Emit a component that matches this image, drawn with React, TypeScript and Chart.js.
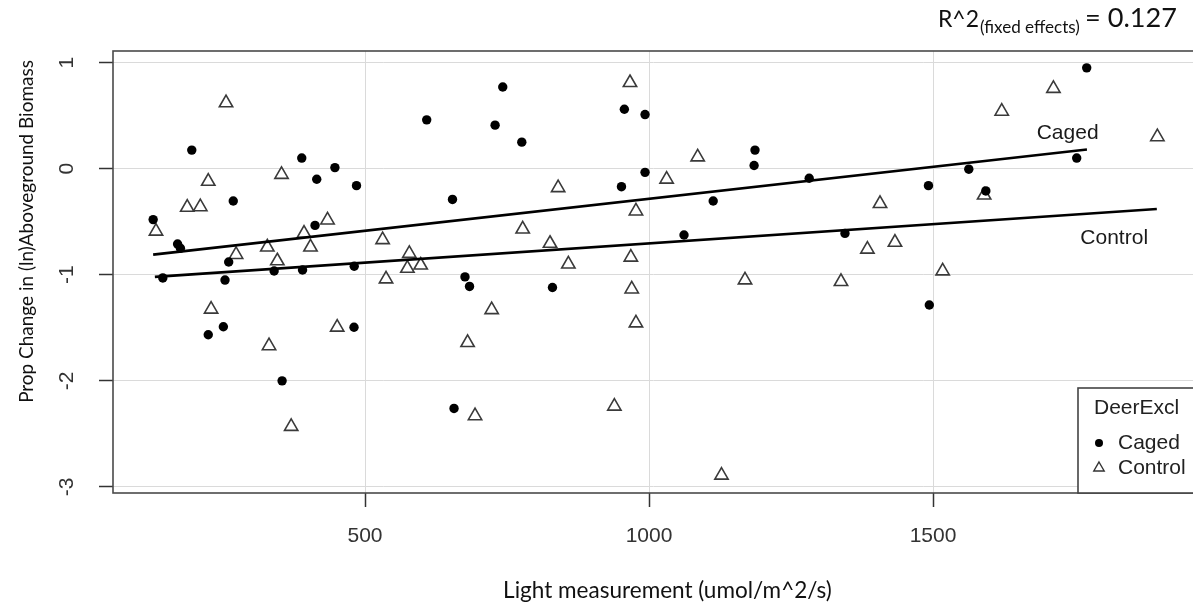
import React, { useEffect, useRef } from "react";
import { Chart, registerables } from "chart.js";

Chart.register(...registerables);

// ---- data ----
const cagedX = [127, 144, 170, 175, 195, 224, 250.6, 253.5, 260, 268, 340, 354, 388.6, 390, 412, 415, 447, 480.6, 481, 485, 608.6, 654, 656.7, 676, 684, 729, 742.5, 776, 830, 951.5, 956.6, 993, 993, 1061.6, 1113, 1185, 1186.6, 1282, 1345, 1492, 1493.5, 1563, 1593, 1753, 1770.6];
const cagedY = [-0.48, -1.03, -0.71, -0.75, 0.175, -1.565, -1.49, -1.05, -0.88, -0.305, -0.965, -2.0, 0.1, -0.955, -0.535, -0.1, 0.01, -1.495, -0.92, -0.16, 0.46, -0.29, -2.26, -1.02, -1.11, 0.41, 0.77, 0.25, -1.12, -0.17, 0.56, 0.51, -0.035, -0.625, -0.305, 0.03, 0.175, -0.09, -0.61, -0.16, -1.285, -0.005, -0.21, 0.1, 0.95];

const controlX = [132, 187, 210, 224, 229, 255.3, 273, 328, 331, 345.6, 353, 370, 392.6, 404, 434, 451, 531, 537, 574.6, 578, 598, 680.6, 693.7, 723, 777.6, 825.7, 840, 858, 939, 966.5, 968, 969.6, 977, 977, 1031, 1085.7, 1127.6, 1169, 1338, 1384.5, 1406.7, 1433, 1517, 1590, 1621, 1712, 1895];
const controlY = [-0.59, -0.365, -0.36, -0.12, -1.325, 0.62, -0.81, -0.74, -1.67, -0.87, -0.055, -2.43, -0.61, -0.74, -0.485, -1.495, -0.67, -1.04, -0.94, -0.8, -0.91, -1.64, -2.33, -1.33, -0.57, -0.705, -0.18, -0.9, -2.24, 0.81, -0.835, -1.135, -0.4, -1.455, -0.1, 0.11, -2.89, -1.05, -1.065, -0.76, -0.33, -0.695, -0.965, -0.25, 0.54, 0.755, 0.3];

const cagedLineX = [127, 1771];
const cagedLineY = [-0.81, 0.18];
const controlLineX = [130, 1894];
const controlLineY = [-1.02, -0.38];

const lineLabelX = [1737, 1819];
const lineLabelY = [0.336, -0.653];

const xTicks = [500, 1000, 1500];
const yTicks = [-3, -2, -1, 0, 1];
const xRange = [56.3, 1959.5];
const yRange = [-3.057, 1.109];

const seriesNames = ["Caged", "Control"];
const legendTitle = "DeerExcl";
const xTitle = "Light measurement (umol/m^2/s)";
const yTitle = "Prop Change in (ln)Aboveground Biomass";
const r2Parts = ["R^2", "(fixed effects)", "= 0.127"];

const SANS = "'Liberation Sans', Arial, sans-serif";
const CAL = "Lato, 'Open Sans', sans-serif";

function fitSize(ctx: CanvasRenderingContext2D, text: string, family: string, target: number) {
  ctx.font = `100px ${family}`;
  const w = ctx.measureText(text).width;
  return (100 * target) / w;
}

const overlay = {
  id: "overlay",
  beforeDatasetsDraw(chart: any) {
    const { ctx, chartArea: a } = chart;
    ctx.save();
    ctx.strokeStyle = "#4a4a4a";
    ctx.lineWidth = 1.6;
    ctx.strokeRect(a.left, a.top, a.right - a.left, a.bottom - a.top);
    ctx.restore();
  },
  afterDraw(chart: any) {
    const ctx: CanvasRenderingContext2D = chart.ctx;
    const xs = chart.scales.x;
    const ys = chart.scales.y;
    ctx.save();

    // axis titles
    ctx.fillStyle = "#111";
    let s = fitSize(ctx, xTitle, CAL, 329);
    ctx.font = `${s}px ${CAL}`;
    ctx.textAlign = "center";
    ctx.textBaseline = "alphabetic";
    ctx.fillText(xTitle, 667.5, 598);

    s = fitSize(ctx, yTitle, CAL, 343);
    ctx.save();
    ctx.translate(33, 231.5);
    ctx.rotate(-Math.PI / 2);
    ctx.font = `${s}px ${CAL}`;
    ctx.textAlign = "center";
    ctx.textBaseline = "alphabetic";
    ctx.fillText(yTitle, 0, 0);
    ctx.restore();

    // R^2 annotation
    const r2X = [938, 980, 1085];
    const r2W = [41, 100, 92];
    const r2B = [27, 33, 27];
    ctx.textAlign = "left";
    r2Parts.forEach((t, i) => {
      const fs = fitSize(ctx, t, CAL, r2W[i]);
      ctx.font = `${fs}px ${CAL}`;
      ctx.fillText(t, r2X[i], r2B[i]);
    });

    // line labels
    ctx.fillStyle = "#1a1a1a";
    ctx.font = `21px ${SANS}`;
    ctx.textAlign = "center";
    ctx.textBaseline = "middle";
    seriesNames.forEach((n, i) => {
      ctx.fillText(n, xs.getPixelForValue(lineLabelX[i]), ys.getPixelForValue(lineLabelY[i]));
    });

    // legend
    const lx = 1078, ly = 388, lb = chart.chartArea.bottom;
    ctx.fillStyle = "#fff";
    ctx.fillRect(lx, ly, 150, lb - ly);
    ctx.strokeStyle = "#444";
    ctx.lineWidth = 1.6;
    ctx.strokeRect(lx, ly, 150, lb - ly);
    ctx.fillStyle = "#222";
    ctx.font = `21px ${SANS}`;
    ctx.textAlign = "left";
    ctx.textBaseline = "middle";
    ctx.fillText(legendTitle, 1094, 408);
    ctx.fillText(seriesNames[0], 1118, 443);
    ctx.fillText(seriesNames[1], 1118, 468);
    ctx.fillStyle = "#000";
    ctx.beginPath();
    ctx.arc(1099, 443, 4, 0, Math.PI * 2);
    ctx.fill();
    const tr = 6;
    ctx.strokeStyle = "#333";
    ctx.lineWidth = 1.4;
    ctx.beginPath();
    for (let k = 0; k < 3; k++) {
      const ang = (k * 2 * Math.PI) / 3;
      const px = 1099 + Math.sin(ang) * tr;
      const py = 468 - Math.cos(ang) * tr;
      if (k === 0) ctx.moveTo(px, py);
      else ctx.lineTo(px, py);
    }
    ctx.closePath();
    ctx.stroke();

    ctx.restore();
  },
};

export default function App() {
  const ref = useRef<HTMLCanvasElement>(null);
  useEffect(() => {
    const canvas = ref.current;
    if (!canvas) return;
    const toPts = (xs: number[], ys: number[]) => xs.map((x, i) => ({ x, y: ys[i] }));
    const chart = new Chart(canvas, {
      type: "scatter",
      data: {
        datasets: [
          {
            label: seriesNames[0] + " fit",
            data: toPts(cagedLineX, cagedLineY),
            showLine: true,
            borderColor: "#000",
            borderWidth: 2.6,
            pointRadius: 0,
            order: 0,
          },
          {
            label: seriesNames[1] + " fit",
            data: toPts(controlLineX, controlLineY),
            showLine: true,
            borderColor: "#000",
            borderWidth: 2.6,
            pointRadius: 0,
            order: 0,
          },
          {
            label: seriesNames[0],
            data: toPts(cagedX, cagedY),
            pointStyle: "circle",
            pointRadius: 4.7,
            backgroundColor: "#000",
            borderColor: "#000",
            borderWidth: 0,
            order: 1,
          },
          {
            label: seriesNames[1],
            data: toPts(controlX, controlY),
            pointStyle: "triangle",
            pointRadius: 7.7,
            backgroundColor: "rgba(0,0,0,0)",
            borderColor: "#3a3a3a",
            borderWidth: 1.6,
            order: 2,
          },
        ],
      },
      options: {
        animation: false,
        responsive: false,
        devicePixelRatio: 1,
        layout: { padding: { top: 51, right: 16, bottom: 0, left: 0 } },
        plugins: { legend: { display: false }, tooltip: { enabled: false } },
        scales: {
          x: {
            type: "linear",
            min: xRange[0],
            max: xRange[1],
            afterBuildTicks: (s: any) => {
              s.ticks = xTicks.map((v) => ({ value: v }));
            },
            afterFit: (s: any) => {
              s.height = 118;
            },
            border: { display: false },
            grid: { color: "#dadada", lineWidth: 1, drawTicks: true, tickLength: 14, tickColor: "#333", tickWidth: 1.5 },
            ticks: {
              autoSkip: false,
              minRotation: 0,
              maxRotation: 0,
              padding: 17,
              color: "#333",
              font: { family: SANS, size: 21 },
              callback: (v: any) => String(v),
            },
          },
          y: {
            type: "linear",
            min: yRange[0],
            max: yRange[1],
            afterBuildTicks: (s: any) => {
              s.ticks = yTicks.map((v) => ({ value: v }));
            },
            afterFit: (s: any) => {
              s.width = 113;
            },
            border: { display: false },
            grid: { color: "#dadada", lineWidth: 1, drawTicks: true, tickLength: 14, tickColor: "#333", tickWidth: 1.5 },
            ticks: {
              autoSkip: false,
              minRotation: 90,
              maxRotation: 90,
              crossAlign: "center",
              padding: 22,
              color: "#333",
              font: { family: SANS, size: 21 },
              callback: (v: any) => String(v),
            },
          },
        },
      },
      plugins: [overlay],
    } as any);
    return () => chart.destroy();
  }, []);
  return (
    <div
      style={{
        position: "absolute",
        left: 0,
        top: 0,
        width: 1193,
        height: 611,
        overflow: "hidden",
        background: "#fff",
      }}
    >
      <canvas ref={ref} width={1210} height={611} style={{ display: "block", width: 1210, height: 611 }} />
    </div>
  );
}
